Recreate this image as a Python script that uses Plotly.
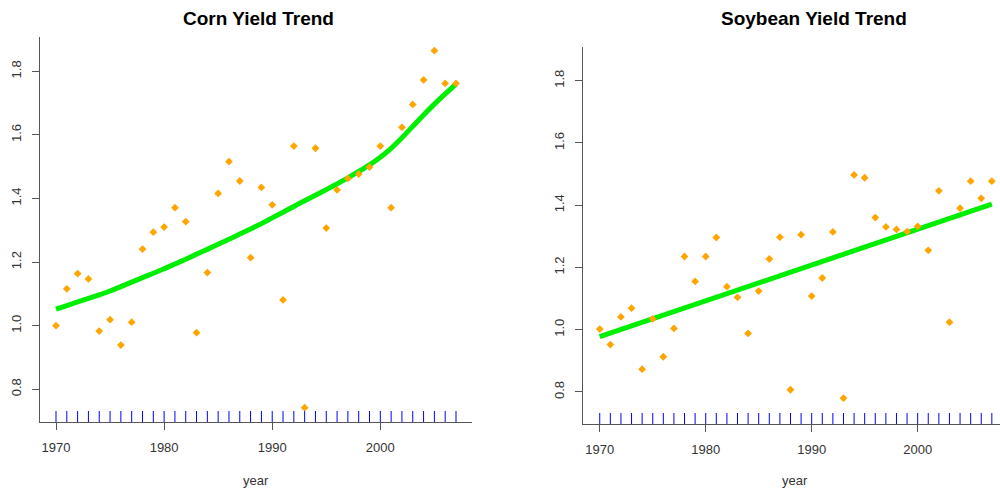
import plotly.graph_objects as go

# ---- data -------------------------------------------------------------
years = list(range(1970, 2008))

corn_yield = [1.000, 1.116, 1.164, 1.147, 0.983, 1.019, 0.939, 1.011, 1.241, 1.294,
              1.310, 1.371, 1.327, 0.978, 1.167, 1.416, 1.516, 1.455, 1.214, 1.435,
              1.380, 1.081, 1.565, 0.742, 1.558, 1.307, 1.427, 1.463, 1.477, 1.499,
              1.565, 1.371, 1.624, 1.696, 1.773, 1.865, 1.762, 1.762]

corn_trend = [1.052, 1.063, 1.075, 1.086, 1.097, 1.109, 1.123, 1.137, 1.151, 1.165,
              1.179, 1.194, 1.209, 1.225, 1.240, 1.256, 1.272, 1.288, 1.304, 1.321,
              1.339, 1.357, 1.375, 1.393, 1.410, 1.428, 1.446, 1.465, 1.485, 1.506,
              1.530, 1.558, 1.591, 1.627, 1.663, 1.697, 1.729, 1.760]

soy_yield = [1.002, 0.952, 1.041, 1.069, 0.873, 1.035, 0.913, 1.004, 1.235, 1.155,
             1.235, 1.296, 1.138, 1.104, 0.988, 1.124, 1.227, 1.297, 0.807, 1.305,
             1.108, 1.166, 1.314, 0.780, 1.497, 1.488, 1.360, 1.330, 1.322, 1.315,
             1.332, 1.255, 1.446, 1.024, 1.390, 1.477, 1.422, 1.477]

# linear trend: fitted values at the first and last year
soy_trend_years = [1970, 2007]
soy_trend = [0.978, 1.403]

y_ticks = [0.8, 1.0, 1.2, 1.4, 1.6, 1.8]
x_ticks = [1970, 1980, 1990, 2000]

# ---- figure -----------------------------------------------------------
W, H = 1000, 491
FONT = "Liberation Sans, Arial, sans-serif"
AXIS_COL = "#555555"
TEXT_COL = "#333333"
PT_COL = "#FFA500"
FIT_COL = "#00EE00"
RUG_COL = "#0000FF"

fig = go.Figure()

fig.add_trace(go.Scatter(x=years, y=corn_trend, mode="lines",
                         line=dict(color=FIT_COL, width=5, shape="spline", smoothing=0.6),
                         xaxis="x", yaxis="y", showlegend=False))
fig.add_trace(go.Scatter(x=years, y=corn_yield, mode="markers",
                         marker=dict(symbol="diamond", size=6, color=PT_COL),
                         xaxis="x", yaxis="y", showlegend=False))
fig.add_trace(go.Scatter(x=soy_trend_years, y=soy_trend, mode="lines",
                         line=dict(color=FIT_COL, width=5),
                         xaxis="x2", yaxis="y2", showlegend=False))
fig.add_trace(go.Scatter(x=years, y=soy_yield, mode="markers",
                         marker=dict(symbol="diamond", size=6, color=PT_COL),
                         xaxis="x2", yaxis="y2", showlegend=False))


def px_x(p):
    return p / W


def px_y(p):
    return (H - p) / H


# panel geometry in pixels
L1, R1, T1, B1 = 40, 472, 37, 422
L2, R2, T2, B2 = 583, 1000, 47, 424

y_range = [0.697, 1.908]

common_x = dict(showline=True, linecolor=AXIS_COL, linewidth=1,
                ticks="outside", ticklen=7, tickcolor=AXIS_COL,
                tickvals=x_ticks, showgrid=False, zeroline=False,
                tickfont=dict(family=FONT, size=13, color=TEXT_COL),
                ticklabelstandoff=6)
common_y = dict(showline=True, linecolor=AXIS_COL, linewidth=1,
                ticks="outside", ticklen=7, tickcolor=AXIS_COL,
                tickvals=y_ticks, tickformat=".1f", tickangle=-90,
                showgrid=False, zeroline=False, range=y_range,
                tickfont=dict(family=FONT, size=13, color=TEXT_COL),
                ticklabelstandoff=6)

fig.update_layout(
    width=W, height=H,
    margin=dict(l=0, r=0, t=0, b=0),
    paper_bgcolor="white", plot_bgcolor="white",
    xaxis=dict(domain=[px_x(L1), px_x(R1)], range=[1968.52, 2008.48],
               anchor="y", **common_x),
    yaxis=dict(domain=[px_y(B1), px_y(T1)], anchor="x", **common_y),
    xaxis2=dict(domain=[px_x(L2), px_x(R2)], range=[1968.42, 2007.77],
                anchor="y2", **common_x),
    yaxis2=dict(domain=[px_y(B2), px_y(T2)], anchor="x2", **common_y),
)

# rug of years along the bottom of each panel
shapes = []
for xr, yr, top, bot in (("x", "y", T1, B1), ("x2", "y2", T2, B2)):
    h = 11 / (bot - top)
    for yv in years:
        shapes.append(dict(type="line", xref=xr, yref=yr + " domain",
                           x0=yv, x1=yv, y0=0, y1=h,
                           line=dict(color=RUG_COL, width=1)))
fig.update_layout(shapes=shapes)

annotations = [
    dict(text="<b>Corn Yield Trend</b>", x=px_x(258), y=px_y(18)),
    dict(text="<b>Soybean Yield Trend</b>", x=px_x(814), y=px_y(18)),
]
for a in annotations:
    a.update(xref="paper", yref="paper", showarrow=False,
             xanchor="center", yanchor="middle",
             font=dict(family=FONT, size=19, color="black"))
for cx in (256, 795):
    annotations.append(dict(text="year", x=px_x(cx), y=px_y(480),
                            xref="paper", yref="paper", showarrow=False,
                            xanchor="center", yanchor="middle",
                            font=dict(family=FONT, size=13, color=TEXT_COL)))
fig.update_layout(annotations=annotations)

fig.write_html("out.html")
